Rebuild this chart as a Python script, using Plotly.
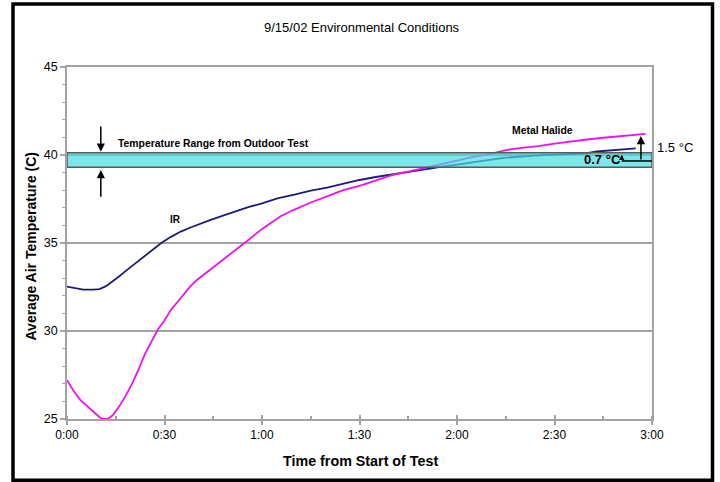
import plotly.graph_objects as go

# ---- data (minutes from start, average air temperature in C) ----
ir_time = [0, 3, 5, 8, 10, 12, 14, 16, 18, 20, 23, 26, 29, 32, 35, 38, 41, 44, 48, 52,
           56, 60, 65, 70, 75, 80, 85, 90, 95, 100, 105, 110, 115, 120, 125, 130, 135,
           140, 145, 150, 155, 160, 163, 166, 170, 175]
ir_temp = [32.52, 32.4, 32.35, 32.35, 32.38, 32.55, 32.8, 33.1, 33.4, 33.7, 34.15, 34.6,
           35.0, 35.35, 35.65, 35.88, 36.1, 36.3, 36.55, 36.8, 37.05, 37.25, 37.55, 37.75,
           37.98, 38.15, 38.38, 38.58, 38.75, 38.9, 39.05, 39.2, 39.33, 39.45, 39.6, 39.72,
           39.85, 39.93, 39.98, 40.02, 40.05, 40.1, 40.2, 40.25, 40.3, 40.38]

mh_time = [0, 2, 4, 6, 8, 10, 11, 12.5, 14, 16, 18, 20, 22, 24, 26, 28, 30, 32, 34, 36,
           38, 40, 44, 48, 52, 56, 60, 63, 66, 70, 75, 80, 85, 90, 95, 100, 105, 110, 115,
           120, 125, 130, 135, 140, 145, 150, 155, 160, 165, 170, 175, 178]
mh_temp = [27.2, 26.6, 26.1, 25.75, 25.42, 25.1, 25.0, 25.0, 25.2, 25.7, 26.3, 27.0, 27.8,
           28.7, 29.4, 30.1, 30.6, 31.2, 31.65, 32.1, 32.55, 32.9, 33.47, 34.05, 34.6, 35.2,
           35.8, 36.2, 36.55, 36.9, 37.3, 37.65, 38.0, 38.25, 38.55, 38.85, 39.05, 39.27,
           39.45, 39.7, 39.9, 40.05, 40.28, 40.4, 40.5, 40.65, 40.78, 40.88, 40.98, 41.07,
           41.15, 41.2]

outdoor_range = [39.30, 40.13]   # temperature range from outdoor test
outdoor_ref = 39.66              # reference level for the differences

x_tickvals = [0, 30, 60, 90, 120, 150, 180]
x_ticktext = ["0:00", "0:30", "1:00", "1:30", "2:00", "2:30", "3:00"]
y_tickvals = [25, 30, 35, 40, 45]

FONT = "Liberation Sans, Arial, sans-serif"
GRAY = "#a3a3a3"

fig = go.Figure()
fig.add_trace(go.Scatter(x=ir_time, y=ir_temp, mode="lines", name="IR",
                         line=dict(color="#1c1c7c", width=1.8), showlegend=False))
fig.add_trace(go.Scatter(x=mh_time, y=mh_temp, mode="lines", name="Metal Halide",
                         line=dict(color="#f010f0", width=1.8), showlegend=False))
# invisible trace to carry the overlay axis (inside part of crossing major ticks)
fig.add_trace(go.Scatter(x=[0, 180], y=[25, 25], xaxis="x2", mode="lines",
                         line=dict(width=0), hoverinfo="skip", showlegend=False))

# band of outdoor temperature range
fig.add_shape(type="rect", xref="x", yref="y", x0=0, x1=180,
              y0=outdoor_range[0], y1=outdoor_range[1],
              fillcolor="rgba(69,219,222,0.7)", line=dict(color="#5a5a5a", width=1.5),
              layer="above")
# reference line and bracket for differences
fig.add_shape(type="line", xref="x", yref="y", x0=170.7, x1=180,
              y0=outdoor_ref, y1=outdoor_ref, line=dict(color="black", width=1.5))

# outer black frame
fig.add_shape(type="rect", xref="paper", yref="paper",
              x0=(13 - 67) / 585, x1=(712.5 - 67) / 585,
              y0=(419 - 480.3) / 352, y1=(419 - 4) / 352,
              line=dict(color="black", width=3.5), fillcolor="rgba(0,0,0,0)")

ann = []
def arrow(xh, yh, xt, yt, size=1.1):
    ann.append(dict(x=xh, y=yh, ax=xt, ay=yt, xref="x", yref="y", axref="x", ayref="y",
                    text="", showarrow=True, arrowhead=2, arrowsize=size, arrowwidth=1.5,
                    arrowcolor="black", standoff=0, startstandoff=0))

arrow(10.4, 40.19, 10.4, 41.7)
arrow(10.4, 39.15, 10.4, 37.54)
arrow(176.6, 41.08, 176.6, outdoor_ref)
arrow(170.7, 40.02, 170.7, outdoor_ref, size=0.7)

def text(x, y, s, size, bold=False, xref="x", yref="y", angle=0, xanchor="center"):
    ann.append(dict(x=x, y=y, xref=xref, yref=yref, text=f"<b>{s}</b>" if bold else s,
                    showarrow=False, textangle=angle, xanchor=xanchor, yanchor="middle",
                    font=dict(family=FONT, size=size, color="black")))

text(45, 40.66, "Temperature Range from Outdoor Test", 10.4, bold=True)
text(33.5, 36.36, "IR", 10, bold=True)
text(146.2, 41.42, "Metal Halide", 10.4, bold=True)
text(164.8, 39.72, "0.7 °C", 13, bold=True)
text((674.5 - 67) / 585, (419 - 147.7) / 352, "1.5 °C", 13, xref="paper", yref="paper")
text((362 - 67) / 585, (419 - 27) / 352, "9/15/02 Environmental Conditions", 13,
     xref="paper", yref="paper")
text((360 - 67) / 585, (419 - 461) / 352, "Time from Start of Test", 14.3, bold=True,
     xref="paper", yref="paper")
text((30 - 67) / 585, (419 - 246.5) / 352, "Average Air Temperature (C)", 14, bold=True,
     xref="paper", yref="paper", angle=-90)

fig.update_layout(
    width=720, height=482,
    margin=dict(l=67, r=68, t=67, b=63),
    paper_bgcolor="white", plot_bgcolor="white",
    showlegend=False,
    annotations=ann,
    font=dict(family=FONT, size=12, color="black"),
    xaxis=dict(range=[0, 180], tickvals=x_tickvals, ticktext=x_ticktext,
               showgrid=False, zeroline=False, showline=True, linecolor=GRAY,
               linewidth=1.5, mirror=True, ticks="outside", ticklen=4, tickwidth=1.5,
               tickcolor=GRAY, tickfont=dict(size=12, color="black"),
               minor=dict(dtick=15, ticks="inside", ticklen=3, tickwidth=1.5,
                          tickcolor=GRAY, showgrid=False)),
    xaxis2=dict(range=[0, 180], overlaying="x", anchor="y", side="bottom",
                tickvals=x_tickvals, ticks="inside", ticklen=4, tickwidth=1.5,
                tickcolor=GRAY, showticklabels=False, showgrid=False, zeroline=False,
                showline=False),
    yaxis=dict(range=[25, 45], tickvals=y_tickvals, showgrid=True, gridcolor=GRAY,
               gridwidth=1.5, zeroline=False, showline=True, linecolor=GRAY,
               linewidth=1.5, mirror=True, ticks="outside", ticklen=5, tickwidth=1.5,
               tickcolor=GRAY, tickfont=dict(size=12.5, color="black"),
               minor=dict(dtick=1, ticks="outside", ticklen=3, tickwidth=1.2,
                          tickcolor=GRAY, showgrid=False)),
)

fig.write_html("out.html")
